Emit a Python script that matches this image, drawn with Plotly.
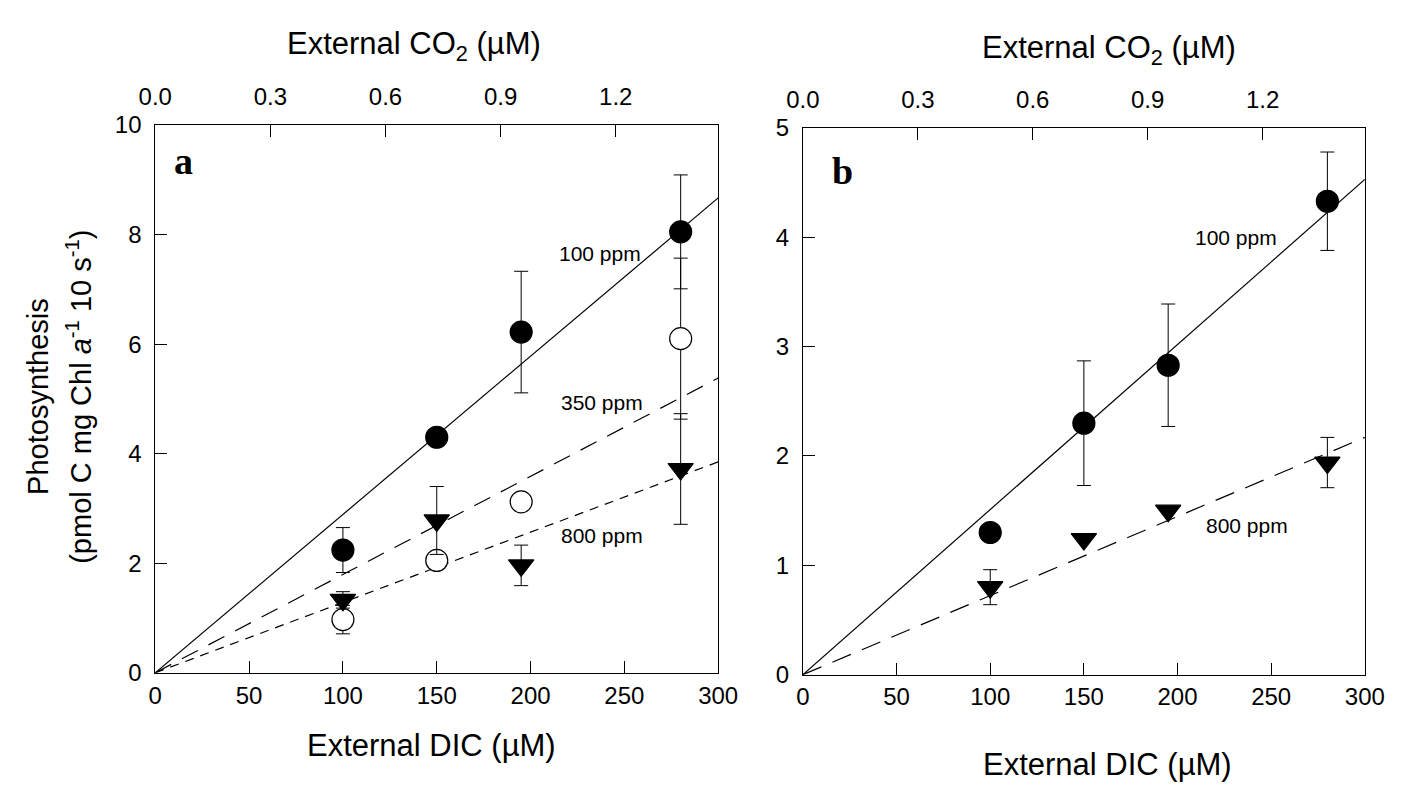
import plotly.graph_objects as go

W, H = 1416, 791

# External DIC (uM) at which photosynthesis was measured
dic = [100, 150, 195, 280]

# Panel a: photosynthesis rates and errors for each pCO2 treatment
a_100_y = [2.24, 4.30, 6.22, 8.05]
a_100_err = [0.41, 0.0, 1.11, 1.04]
a_350_y = [0.97, 2.05, 3.12, 6.10]
a_350_err = [0.26, 0.0, 0.0, 1.47]
a_800_y = [1.33, 2.78, 1.96, 3.72]
a_800_err = [0.15, 0.62, 0.37, 1.01]

# Panel b
b_100_y = [1.30, 2.30, 2.83, 4.33]
b_100_err = [0.0, 0.57, 0.56, 0.45]
b_800_y = [0.80, 1.24, 1.50, 1.94]
b_800_err = [0.16, 0.0, 0.0, 0.23]

# Linear fits through the origin (value at DIC = 300)
fit_x = [0, 300]
a_fit_100 = [0, 8.67]
a_fit_350 = [0, 5.38]
a_fit_800 = [0, 3.85]
b_fit_100 = [0, 4.53]
b_fit_800 = [0, 2.17]

# Top axis: external CO2 (uM)
co2_range = [0, 1.467]
co2_ticks = [0.0, 0.3, 0.6, 0.9, 1.2]
dic_ticks = [0, 50, 100, 150, 200, 250, 300]

FONT = "Liberation Sans, Arial, sans-serif"


def px_x(p):
    return p / W


def px_y(p):
    return 1 - p / H


fig = go.Figure()


def fit_line(x, y, xa, ya, dash):
    fig.add_trace(go.Scatter(x=x, y=y, mode="lines", xaxis=xa, yaxis=ya,
                             line=dict(color="black", width=1.2, dash=dash),
                             hoverinfo="skip", showlegend=False))


def points(y, err, xa, ya, symbol, fill):
    fig.add_trace(go.Scatter(
        x=dic, y=y, mode="markers", xaxis=xa, yaxis=ya, showlegend=False,
        marker=dict(symbol=symbol, size=22,
                    color=fill, line=dict(color="black", width=1.2)),
        error_y=dict(type="data", array=err, visible=True, color="black",
                     thickness=1, width=7)))


# panel a
fit_line(fit_x, a_fit_100, "x", "y", "solid")
fit_line(fit_x, a_fit_350, "x", "y", "18px,12px")
fit_line(fit_x, a_fit_800, "x", "y", "9px,7px")
points(a_100_y, a_100_err, "x", "y", "circle", "black")
points(a_350_y, a_350_err, "x", "y", "circle", "white")
points(a_800_y, a_800_err, "x", "y", "triangle-down", "black")

# panel b
fit_line(fit_x, b_fit_100, "x2", "y2", "solid")
fit_line(fit_x, b_fit_800, "x2", "y2", "20px,12px")
points(b_100_y, b_100_err, "x2", "y2", "circle", "black")
points(b_800_y, b_800_err, "x2", "y2", "triangle-down", "black")

# empty traces so the CO2 axes get their own subplots
fig.add_trace(go.Scatter(x=[], y=[], xaxis="x3", yaxis="y", showlegend=False))
fig.add_trace(go.Scatter(x=[], y=[], xaxis="x4", yaxis="y2", showlegend=False))

tick_font = dict(family=FONT, size=24, color="black")

ax_common = dict(showgrid=False, zeroline=False, ticks="inside", ticklen=12,
                 tickwidth=1, tickcolor="black", tickfont=tick_font,
                 linecolor="black", linewidth=1)

dom_a = [px_x(142), px_x(720)]
dom_b = [px_x(807), px_x(1384)]
dom_ya = [px_y(682), px_y(115)]
dom_yb = [px_y(684), px_y(118)]

co2_text = [f"{v:.1f}" for v in co2_ticks]

fig.update_layout(
    width=W, height=H,
    margin=dict(l=0, r=0, t=0, b=0),
    paper_bgcolor="white", plot_bgcolor="white",
    xaxis=dict(domain=dom_a, range=[0, 300], tickvals=dic_ticks, anchor="y",
               showline=True, mirror=True, ticklabelstandoff=1, **ax_common),
    yaxis=dict(domain=dom_ya, range=[0, 10], tickvals=[0, 2, 4, 6, 8, 10], anchor="x",
               showline=True, mirror=True, ticklabelstandoff=8, **ax_common),
    xaxis2=dict(domain=dom_b, range=[0, 300], tickvals=dic_ticks, anchor="y2",
                showline=True, mirror=True, ticklabelstandoff=1, **ax_common),
    yaxis2=dict(domain=dom_yb, range=[0, 5], tickvals=[0, 1, 2, 3, 4, 5], anchor="x2",
                showline=True, mirror=True, ticklabelstandoff=8, **ax_common),
    xaxis3=dict(overlaying="x", side="top", anchor="y", range=co2_range,
                tickvals=co2_ticks, ticktext=co2_text, ticklabelstandoff=14,
                showline=False, **ax_common),
    xaxis4=dict(overlaying="x2", side="top", anchor="y2", range=co2_range,
                tickvals=co2_ticks, ticktext=co2_text, ticklabelstandoff=14,
                showline=False, **ax_common),
)

ann = []
title_font = dict(family=FONT, size=31, color="black")
ytitle_font = dict(family=FONT, size=29, color="black")
label_font = dict(family=FONT, size=21, color="black")

# axis titles
for cx, cy in [(408, 33), (1121, 37)]:
    ann.append(dict(x=px_x(cx), y=px_y(cy), xref="paper", yref="paper",
                    text="External CO<sub>2</sub> (\u00b5M)", showarrow=False,
                    font=title_font, xanchor="center", yanchor="middle"))
for cx, cy in [(426, 757), (1120, 777)]:
    ann.append(dict(x=px_x(cx), y=px_y(cy), xref="paper", yref="paper",
                    text="External DIC (\u00b5M)", showarrow=False,
                    font=title_font, xanchor="center", yanchor="middle"))

ann.append(dict(x=px_x(22), y=px_y(396), xref="paper", yref="paper",
                text="Photosynthesis", textangle=-90, showarrow=False,
                font=ytitle_font, xanchor="center", yanchor="middle"))
ann.append(dict(x=px_x(64), y=px_y(396), xref="paper", yref="paper",
                text="(pmol C mg Chl <i>a</i><sup>-1</sup> 10 s<sup>-1</sup>)",
                textangle=-90, showarrow=False,
                font=ytitle_font, xanchor="center", yanchor="middle"))

# panel letters
panel_font = dict(family="Liberation Serif, Times New Roman, serif", size=38, color="black")
ann.append(dict(x=15, y=9.35, xref="x", yref="y", text="<b>a</b>", showarrow=False,
                font=panel_font, xanchor="center", yanchor="middle"))
ann.append(dict(x=21, y=4.61, xref="x2", yref="y2", text="<b>b</b>", showarrow=False,
                font=panel_font, xanchor="center", yanchor="middle"))

# curve labels
for x, y, t, xr, yr in [(237, 7.66, "100 ppm", "x", "y"),
                        (238, 4.94, "350 ppm", "x", "y"),
                        (238, 2.51, "800 ppm", "x", "y"),
                        (231, 4.0, "100 ppm", "x2", "y2"),
                        (237, 1.36, "800 ppm", "x2", "y2")]:
    ann.append(dict(x=x, y=y, xref=xr, yref=yr, text=t, showarrow=False,
                    font=label_font, xanchor="center", yanchor="middle"))

fig.update_layout(annotations=ann)

fig.write_html("out.html")
